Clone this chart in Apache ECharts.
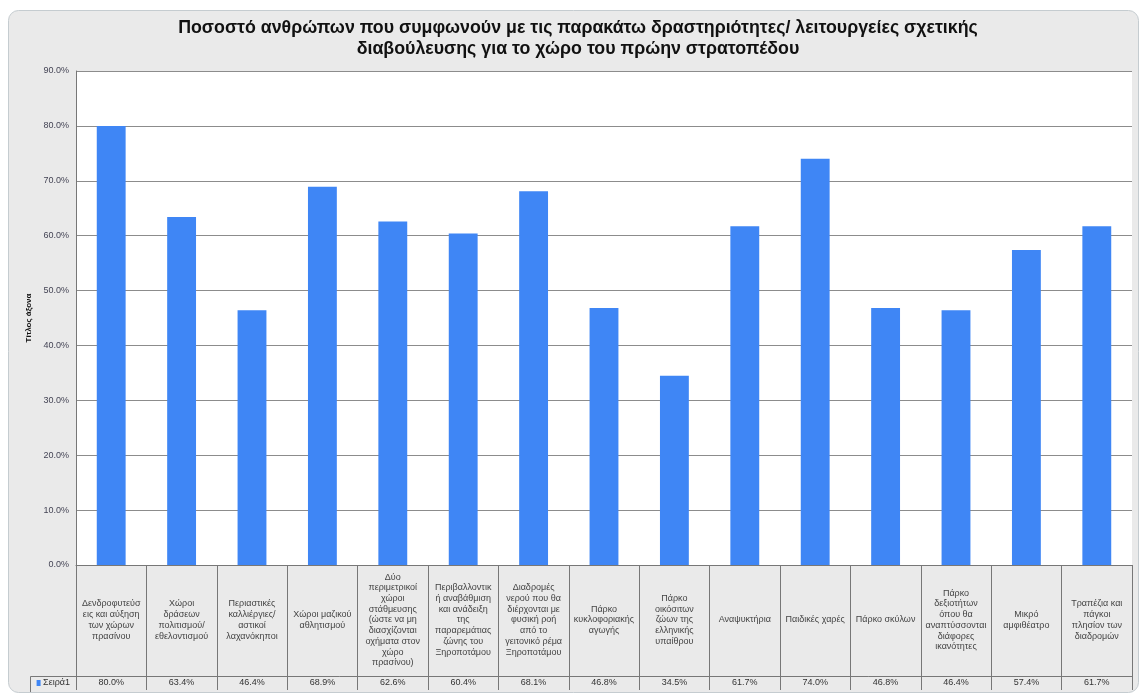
<!DOCTYPE html>
<html>
<head>
<meta charset="utf-8">
<script src="https://cdn.jsdelivr.net/npm/echarts@6/dist/echarts.min.js"></script>
<style>
html,body{margin:0;padding:0;background:#fff;}
#c{width:1140px;height:695px;}
</style>
</head>
<body>
<div id="c"></div>
<script>
const titleText = 'Ποσοστό ανθρώπων που συμφωνούν με τις παρακάτω δραστηριότητες/ λειτουργείες σχετικής\nδιαβούλευσης για το χώρο του πρώην στρατοπέδου';
const categories = [
  'Δενδροφυτεύσ\nεις και αύξηση\nτων χώρων\nπρασίνου',
  'Χώροι\nδράσεων\nπολιτισμού/\nεθελοντισμού',
  'Περιαστικές\nκαλλιέργιες/\nαστικοί\nλαχανόκηποι',
  'Χώροι μαζικού\nαθλητισμού',
  'Δύο\nπεριμετρικοί\nχώροι\nστάθμευσης\n(ώστε να μη\nδιασχίζονται\nοχήματα στον\nχώρο\nπρασίνου)',
  'Περιβαλλοντικ\nή αναβάθμιση\nκαι ανάδειξη\nτης\nπαραρεμάτιας\nζώνης του\nΞηροποτάμου',
  'Διαδρομές\nνερού που θα\nδιέρχονται με\nφυσική ροή\nαπό το\nγειτονικό ρέμα\nΞηροποτάμου',
  'Πάρκο\nκυκλοφοριακής\nαγωγής',
  'Πάρκο\nοικόσιτων\nζώων της\nελληνικής\nυπαίθρου',
  'Αναψυκτήρια',
  'Παιδικές χαρές',
  'Πάρκο σκύλων',
  'Πάρκο\nδεξιοτήτων\nόπου θα\nαναπτύσσονται\nδιάφορες\nικανότητες',
  'Μικρό\nαμφιθέατρο',
  'Τραπέζια και\nπάγκοι\nπλησίον των\nδιαδρομών'
];
const seriesName = 'Σειρά1';
const values = [80.0, 63.4, 46.4, 68.9, 62.6, 60.4, 68.1, 46.8, 34.5, 61.7, 74.0, 46.8, 46.4, 57.4, 61.7];
const yAxisName = 'Τίτλος άξονα';
const yTicks = {min: 0, max: 90, interval: 10};

const valueLabels = values.map(v => v.toFixed(1) + '%');
const font = '"Liberation Sans", Arial, sans-serif';
const gridLeft = 76, gridRight = 8, gridTop = 71, gridBottom = 130;

const chart = echarts.init(document.getElementById('c'));
chart.setOption({
  backgroundColor: '#ffffff',
  animation: false,
  title: {
    text: titleText,
    left: 573,
    textAlign: 'center',
    top: 13,
    textStyle: {fontFamily: font, fontSize: 17.8, fontWeight: 'bold', color: '#111', lineHeight: 21}
  },
  graphic: [
    {type: 'rect', z: -10, silent: true,
     shape: {x: 8.5, y: 10.5, width: 1130, height: 682, r: 10},
     style: {fill: '#eaeaea', stroke: '#c5ccd0', lineWidth: 1}},
    {type: 'line', z: 10, silent: true,
     shape: {x1: 30.5, y1: 676.5, x2: 76, y2: 676.5}, style: {stroke: '#777', lineWidth: 1}},
    {type: 'line', z: 10, silent: true,
     shape: {x1: 30.5, y1: 676.5, x2: 30.5, y2: 692}, style: {stroke: '#777', lineWidth: 1}}
  ],
  grid: {
    left: gridLeft, right: gridRight, top: gridTop, bottom: gridBottom,
    show: true, backgroundColor: '#ffffff', borderWidth: 0
  },
  xAxis: [
    {
      type: 'category',
      data: categories,
      position: 'bottom',
      boundaryGap: true,
      axisLine: {show: true, lineStyle: {color: '#777', width: 1}},
      axisTick: {show: true, interval: 0, length: 125, lineStyle: {color: '#777', width: 1}},
      axisLabel: {
        interval: 0, margin: 55, verticalAlign: 'middle', align: 'center',
        fontFamily: font, fontSize: 9, lineHeight: 10.7, color: '#444'
      },
      splitLine: {show: false}
    },
    {
      type: 'category',
      data: valueLabels,
      position: 'bottom',
      offset: 111,
      boundaryGap: true,
      axisLine: {show: true, lineStyle: {color: '#777', width: 1}},
      axisTick: {show: false},
      axisLabel: {interval: 0, margin: 7, verticalAlign: 'middle', fontFamily: font, fontSize: 9, color: '#333'},
      name: '{sq|} ' + seriesName,
      nameLocation: 'start',
      nameGap: 6,
      nameTextStyle: {
        fontFamily: font, fontSize: 9, color: '#333', verticalAlign: 'top', lineHeight: 14,
        rich: {sq: {width: 4, height: 6, backgroundColor: '#3f86f5'}}
      }
    }
  ],
  yAxis: {
    type: 'value',
    min: yTicks.min, max: yTicks.max, interval: yTicks.interval,
    name: yAxisName,
    nameLocation: 'middle',
    nameGap: 41,
    nameRotate: 90,
    nameTextStyle: {fontFamily: font, fontSize: 8, fontWeight: 'bold', color: '#111'},
    axisLine: {show: true, lineStyle: {color: '#777', width: 1}},
    axisTick: {show: false},
    axisLabel: {
      formatter: v => v.toFixed(1) + '%',
      fontFamily: font, fontSize: 9, color: '#445', margin: 7
    },
    splitLine: {show: true, lineStyle: {color: '#8c8c8c', width: 1}}
  },
  series: [{
    name: seriesName,
    type: 'bar',
    data: values,
    barWidth: '41%',
    itemStyle: {color: '#3f86f5'}
  }]
});
</script>
</body>
</html>
